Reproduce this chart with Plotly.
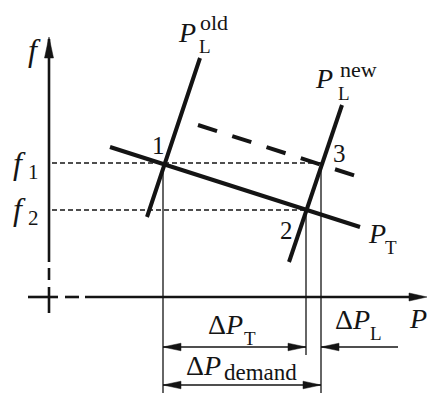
import plotly.graph_objects as go

W, H = 428, 394
# Diagram units are pixels measured from the point where the P and f axes cross.
X0, Y0 = 49, 297          # position of that crossing inside the figure

# frequency levels
f1, f2 = 134, 87
# turbine characteristic P_T and its raised copy (dashed)
pt_x, pt_y = [61, 311], [150, 70]
pt_up_x, pt_up_y = [149, 310], [172, 120]
# load characteristics before and after the load change
pl_old_x, pl_old_y = [98, 151], [80, 239]
pl_new_x, pl_new_y = [240, 293], [35, 192]
# operating points 1, 2, 3
op_x = [114, 257, 272]
op_y = [f1, f2, f1]
op_names = ["1", "2", "3"]
# dimension rows below the P axis
row_T, row_D, ext_bottom = -50, -88, -96
dpl_end = 349
# axes
f_axis_solid = [35, 258]
f_axis_tip = 260
f_axis_dash = [17, 29]
cross_v = [-16, 10]
cross_h = [-21, 9]
p_axis_dash = [16, 30]
p_axis_solid = [36, 362]
p_axis_tip = 378

INK = "#141414"
fig = go.Figure()


def seg(xs, ys, width, dash="solid"):
    fig.add_trace(go.Scatter(x=xs, y=ys, mode="lines", hoverinfo="skip",
                             line=dict(color=INK, width=width, dash=dash)))


def head(tx, ty, dx, dy, length, half):
    n = (dx * dx + dy * dy) ** 0.5
    ux, uy = dx / n, dy / n
    bx, by = tx - ux * length, ty - uy * length
    px, py = -uy * half, ux * half
    fig.add_trace(go.Scatter(x=[tx, bx + px, bx - px, tx], y=[ty, by + py, by - py, ty],
                             mode="lines", fill="toself", fillcolor=INK,
                             line=dict(color=INK, width=0.5), hoverinfo="skip"))


# f axis with arrow and broken lower part
seg([0, 0], f_axis_solid, 2.6)
head(0, f_axis_tip, 0, 1, 21, 4.5)
seg([0, 0], f_axis_dash, 2.6)
seg([0, 0], cross_v, 2.6)
# P axis with arrow and broken left part
seg(cross_h, [0, 0], 2.6)
seg(p_axis_dash, [0, 0], 2.6)
seg(p_axis_solid, [0, 0], 2.6)
head(p_axis_tip, 0, 1, 0, 18, 4)

# frequency guide lines
seg([3, op_x[2]], [f1, f1], 1.4, "5px,3px")
seg([3, op_x[1]], [f2, f2], 1.4, "5px,3px")

# characteristics
seg(pt_up_x, pt_up_y, 4, "20px,16px")
seg(pt_x, pt_y, 4)
seg(pl_old_x, pl_old_y, 4)
seg(pl_new_x, pl_new_y, 4)

# extension lines from operating points
seg([op_x[0], op_x[0]], [op_y[0], ext_bottom], 1.3)
seg([op_x[1], op_x[1]], [op_y[1], row_T - 8], 1.3)
seg([op_x[2], op_x[2]], [op_y[2], ext_bottom], 1.3)

# dimension arrows
AL, AH = 18, 3.8
seg([op_x[0], op_x[1]], [row_T, row_T], 1.3)
head(op_x[0], row_T, -1, 0, AL, AH)
head(op_x[1], row_T, 1, 0, AL, AH)
seg([op_x[2], dpl_end], [row_T, row_T], 1.3)
head(op_x[2], row_T, -1, 0, AL, AH)
seg([op_x[0], op_x[2]], [row_D, row_D], 1.3)
head(op_x[0], row_D, -1, 0, AL, AH)
head(op_x[2], row_D, 1, 0, AL, AH)

FONT = "Liberation Serif, Times New Roman, DejaVu Serif, serif"


def label(text, cx, cy, size):
    """Place text centred on a pixel position of the figure."""
    fig.add_annotation(x=cx / W, y=1 - cy / H, xref="paper", yref="paper",
                       text=text, showarrow=False, xanchor="center", yanchor="middle",
                       font=dict(family=FONT, size=size, color=INK))


# axis names and frequency levels
label("<i>f</i>", 34, 50, 32)
label("<i>f</i>", 19, 163, 32)
label("1", 33, 172, 21)
label("<i>f</i>", 19, 209, 32)
label("2", 33, 218, 21)
label("<i>P</i>", 418, 318, 28)

# operating point numbers
label(op_names[0], 158, 145, 25)
label(op_names[1], 286, 230, 25)
label(op_names[2], 339, 154, 25)

# characteristic names
label("<i>P</i>", 187, 33, 28)
label("L", 205, 46, 19)
label("old", 214, 22, 22)
label("<i>P</i>", 324, 78, 28)
label("L", 344, 93, 19)
label("new", 358, 70, 22)
label("<i>P</i>", 377, 233, 28)
label("T", 391, 247, 19)

# dimension names
label("Δ<i>P</i>", 225, 324, 28)
label("T", 250, 338, 19)
label("Δ<i>P</i>", 352, 319, 28)
label("L", 376, 333, 19)
label("Δ<i>P</i>", 203, 365, 28)
label("demand", 260, 372, 23)

fig.update_layout(
    width=W, height=H, margin=dict(l=0, r=0, t=0, b=0),
    paper_bgcolor="white", plot_bgcolor="white", showlegend=False,
    xaxis=dict(range=[-X0, W - X0], visible=False, fixedrange=True),
    yaxis=dict(range=[Y0 - H, Y0], visible=False, fixedrange=True),
)
fig.write_html("out.html")
